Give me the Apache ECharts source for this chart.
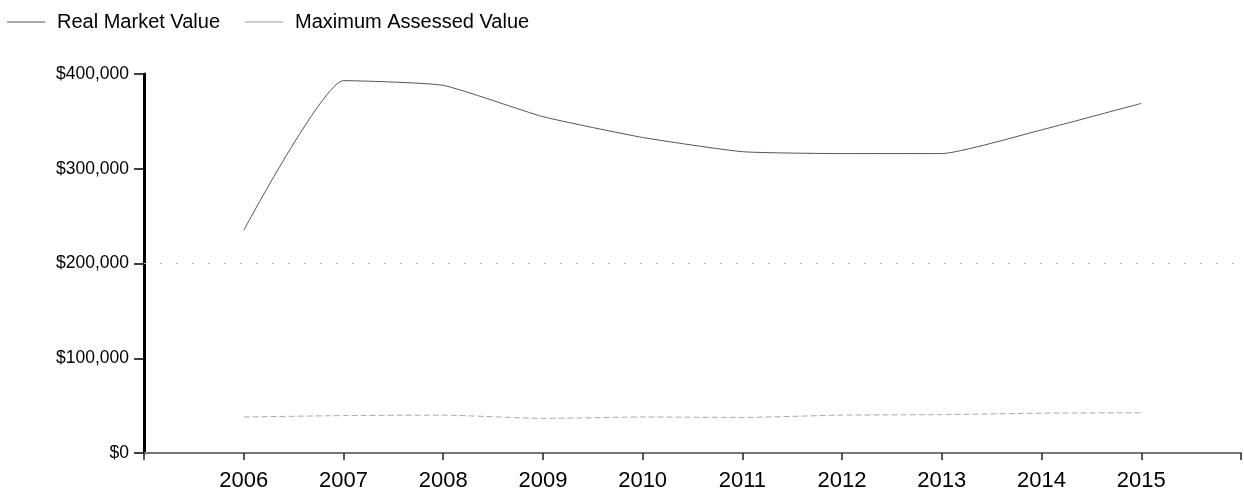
<!DOCTYPE html>
<html>
<head>
<meta charset="utf-8">
<script src="https://cdn.jsdelivr.net/npm/echarts@6/dist/echarts.min.js"></script>
<style>
html,body{margin:0;padding:0;background:#fff;}
#chart{width:1244px;height:492px;}
</style>
</head>
<body>
<div id="chart"></div>
<script>
const categories = ['', '2006', '2007', '2008', '2009', '2010', '2011', '2012', '2013', '2014', '2015', ''];
const realMarketValue = [null, 235000, 393000, 388000, 355000, 333000, 318000, 316000, 316000, 341000, 369000, null];
const maxAssessedValue = [null, 38000, 39500, 40000, 36500, 38000, 37500, 40000, 40500, 42000, 42500, null];
const yTicks = [0, 100000, 200000, 300000, 400000];
const referenceLine = 200000;

const font = 'Liberation Sans, Arial, sans-serif';
const chart = echarts.init(document.getElementById('chart'), null, {renderer: 'canvas'});
chart.setOption({
  animation: false,
  backgroundColor: '#fff',
  legend: [
    {
      left: 2, top: 7, data: ['Real Market Value'],
      icon: 'rect', itemWidth: 38, itemHeight: 1, itemGap: 12,
      textStyle: {fontFamily: font, fontSize: 20, color: '#000', padding: [0, 0, 0, 7]}
    },
    {
      left: 240, top: 7, data: ['Maximum Assessed Value'],
      icon: 'rect', itemWidth: 38, itemHeight: 1,
      textStyle: {fontFamily: font, fontSize: 20, color: '#000', padding: [0, 0, 0, 7]}
    }
  ],
  grid: {left: 144, right: 3, top: 74, bottom: 39, containLabel: false},
  xAxis: {
    type: 'category',
    data: categories,
    boundaryGap: false,
    axisLine: {show: true, lineStyle: {color: '#777', width: 2}},
    axisTick: {show: true, length: 7, lineStyle: {color: '#222', width: 1.5}},
    axisLabel: {fontFamily: font, fontSize: 22, color: '#000', margin: 17, interval: 0},
    splitLine: {show: false}
  },
  yAxis: {
    type: 'value',
    min: yTicks[0],
    max: yTicks[yTicks.length - 1],
    interval: 100000,
    axisLine: {show: true, lineStyle: {color: '#000', width: 3}},
    axisTick: {show: true, length: 10, lineStyle: {color: '#000', width: 1.5}},
    axisLabel: {
      fontFamily: font, fontSize: 17.5, color: '#000', margin: 15,
      formatter: v => '$' + v.toLocaleString('en-US')
    },
    splitLine: {show: false}
  },
  series: [
    {
      name: 'Real Market Value',
      type: 'line',
      data: realMarketValue,
      smooth: 0.15,
      showSymbol: false,
      symbol: 'none',
      color: '#555',
      lineStyle: {color: '#555', width: 1},
      markLine: {
        silent: true,
        symbol: 'none',
        label: {show: false},
        lineStyle: {color: '#bbb', width: 1, type: [2, 14]},
        data: [{yAxis: referenceLine}]
      }
    },
    {
      name: 'Maximum Assessed Value',
      type: 'line',
      data: maxAssessedValue,
      smooth: 0.15,
      showSymbol: false,
      symbol: 'none',
      color: '#999',
      lineStyle: {color: '#aaa', width: 1, type: [6, 3]}
    }
  ]
});
</script>
</body>
</html>
